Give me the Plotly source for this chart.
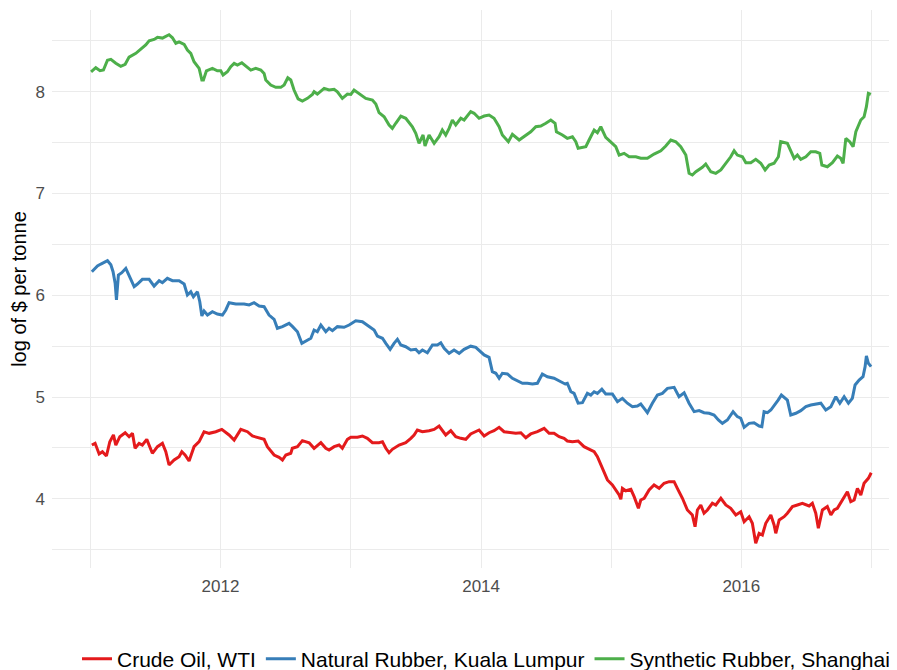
import plotly.graph_objects as go
import pandas as pd

# ---- data (decimal year, log of $ per tonne) ----
series_names = ["Crude Oil, WTI", "Natural Rubber, Kuala Lumpur", "Synthetic Rubber, Shanghai"]
series_colors = ["#E41A1C", "#377EB8", "#4DAF4A"]

oil_t = [2011.011, 2011.036, 2011.067, 2011.092, 2011.123, 2011.149, 2011.177, 2011.195, 2011.226, 2011.267,
         2011.297, 2011.323, 2011.343, 2011.374, 2011.399, 2011.433, 2011.476, 2011.515, 2011.553, 2011.579,
         2011.604, 2011.643, 2011.681, 2011.702, 2011.727, 2011.758, 2011.796, 2011.835, 2011.873, 2011.912,
         2011.963, 2012.009, 2012.065, 2012.104, 2012.155, 2012.206, 2012.244, 2012.296, 2012.334, 2012.359,
         2012.411, 2012.449, 2012.475, 2012.501, 2012.539, 2012.551, 2012.590, 2012.628, 2012.680, 2012.718,
         2012.770, 2012.808, 2012.833, 2012.872, 2012.910, 2012.935, 2012.974, 2013.000, 2013.051, 2013.089,
         2013.127, 2013.166, 2013.217, 2013.243, 2013.269, 2013.294, 2013.319, 2013.371, 2013.422, 2013.461,
         2013.486, 2013.511, 2013.550, 2013.601, 2013.640, 2013.678, 2013.703, 2013.729, 2013.768, 2013.806,
         2013.845, 2013.883, 2013.921, 2013.960, 2013.985, 2014.024, 2014.062, 2014.100, 2014.139, 2014.177,
         2014.216, 2014.267, 2014.306, 2014.344, 2014.382, 2014.433, 2014.485, 2014.523, 2014.561, 2014.600,
         2014.638, 2014.663, 2014.702, 2014.746, 2014.791, 2014.843, 2014.869, 2014.894, 2014.920, 2014.945,
         2014.971, 2015.009, 2015.035, 2015.061, 2015.074, 2015.086, 2015.112, 2015.151, 2015.176, 2015.209,
         2015.227, 2015.253, 2015.291, 2015.329, 2015.368, 2015.406, 2015.445, 2015.483, 2015.508, 2015.547,
         2015.585, 2015.623, 2015.644, 2015.662, 2015.688, 2015.713, 2015.739, 2015.777, 2015.803, 2015.842,
         2015.880, 2015.918, 2015.957, 2015.995, 2016.021, 2016.059, 2016.084, 2016.110, 2016.136, 2016.161,
         2016.187, 2016.226, 2016.251, 2016.264, 2016.290, 2016.328, 2016.353, 2016.392, 2016.430, 2016.468,
         2016.520, 2016.545, 2016.571, 2016.591, 2016.622, 2016.660, 2016.687, 2016.712, 2016.737, 2016.776,
         2016.814, 2016.840, 2016.866, 2016.891, 2016.917, 2016.942, 2016.975, 2016.997]
oil_v = [4.529, 4.546, 4.441, 4.464, 4.421, 4.562, 4.628, 4.529, 4.611, 4.65,
         4.611, 4.644, 4.497, 4.546, 4.529, 4.585, 4.448, 4.513, 4.546, 4.464,
         4.333, 4.382, 4.415, 4.464, 4.431, 4.372, 4.513, 4.562, 4.66, 4.644,
         4.66, 4.683, 4.628, 4.578, 4.683, 4.66, 4.618, 4.601, 4.585, 4.513,
         4.431, 4.408, 4.382, 4.431, 4.448, 4.497, 4.513, 4.572, 4.552, 4.497,
         4.552, 4.497, 4.48, 4.513, 4.529, 4.497, 4.585, 4.605, 4.605, 4.618,
         4.595, 4.552, 4.552, 4.562, 4.497, 4.454, 4.487, 4.529, 4.552, 4.595,
         4.628, 4.677, 4.66, 4.67, 4.683, 4.716, 4.677, 4.628, 4.67, 4.611,
         4.595, 4.585, 4.638, 4.66, 4.677, 4.618, 4.65, 4.67, 4.703, 4.66,
         4.65, 4.644, 4.65, 4.601, 4.638, 4.66, 4.693, 4.644, 4.644, 4.611,
         4.595, 4.569, 4.562, 4.569, 4.513, 4.48, 4.464, 4.415, 4.333, 4.251,
         4.186, 4.137, 4.088, 4.038, 3.996, 4.104, 4.08, 4.094, 4.022, 3.908,
         3.989, 4.006, 4.088, 4.137, 4.104, 4.153, 4.169, 4.169, 4.104, 4.006,
         3.891, 3.842, 3.727, 3.891, 3.94, 3.859, 3.891, 3.957, 3.94, 4.006,
         3.94, 3.908, 3.842, 3.874, 3.776, 3.825, 3.76, 3.564, 3.662, 3.645,
         3.76, 3.842, 3.744, 3.662, 3.793, 3.825, 3.859, 3.924, 3.94, 3.957,
         3.93, 3.957, 3.859, 3.711, 3.891, 3.924, 3.842, 3.891, 3.908, 3.989,
         4.071, 3.973, 3.989, 4.104, 4.038, 4.153, 4.202, 4.257]

nat_t = [2011.011, 2011.054, 2011.080, 2011.105, 2011.131, 2011.157, 2011.174, 2011.190, 2011.200, 2011.215,
         2011.241, 2011.272, 2011.303, 2011.336, 2011.361, 2011.399, 2011.451, 2011.489, 2011.528, 2011.553,
         2011.591, 2011.630, 2011.681, 2011.720, 2011.745, 2011.771, 2011.791, 2011.822, 2011.840, 2011.856,
         2011.873, 2011.899, 2011.937, 2011.975, 2012.014, 2012.040, 2012.065, 2012.117, 2012.180, 2012.219,
         2012.257, 2012.296, 2012.334, 2012.372, 2012.411, 2012.436, 2012.475, 2012.513, 2012.526, 2012.551,
         2012.590, 2012.624, 2012.667, 2012.693, 2012.718, 2012.743, 2012.770, 2012.808, 2012.833, 2012.859,
         2012.897, 2012.948, 2012.987, 2013.038, 2013.089, 2013.127, 2013.179, 2013.204, 2013.243, 2013.269,
         2013.302, 2013.332, 2013.358, 2013.384, 2013.422, 2013.461, 2013.499, 2013.524, 2013.550, 2013.588,
         2013.627, 2013.665, 2013.691, 2013.717, 2013.755, 2013.793, 2013.832, 2013.870, 2013.921, 2013.960,
         2013.998, 2014.024, 2014.062, 2014.087, 2014.114, 2014.139, 2014.164, 2014.203, 2014.241, 2014.279,
         2014.318, 2014.356, 2014.395, 2014.433, 2014.471, 2014.510, 2014.561, 2014.613, 2014.646, 2014.663,
         2014.690, 2014.715, 2014.746, 2014.779, 2014.817, 2014.843, 2014.869, 2014.894, 2014.928, 2014.958,
         2015.009, 2015.048, 2015.086, 2015.124, 2015.163, 2015.201, 2015.227, 2015.253, 2015.278, 2015.316,
         2015.355, 2015.393, 2015.432, 2015.483, 2015.521, 2015.560, 2015.598, 2015.637, 2015.675, 2015.713,
         2015.752, 2015.790, 2015.823, 2015.854, 2015.892, 2015.936, 2015.969, 2015.995, 2016.021, 2016.059,
         2016.097, 2016.136, 2016.157, 2016.174, 2016.200, 2016.226, 2016.251, 2016.282, 2016.307, 2016.353,
         2016.379, 2016.418, 2016.456, 2016.495, 2016.533, 2016.571, 2016.610, 2016.648, 2016.687, 2016.725,
         2016.756, 2016.789, 2016.822, 2016.852, 2016.873, 2016.904, 2016.934, 2016.950, 2016.960, 2016.975,
         2016.996]
nat_v = [6.232, 6.288, 6.307, 6.32, 6.34, 6.30, 6.232, 6.118, 5.954, 6.199,
         6.222, 6.265, 6.183, 6.085, 6.111, 6.157, 6.157, 6.091, 6.144, 6.124,
         6.167, 6.144, 6.144, 6.111, 6.003, 6.035, 5.986, 6.035, 5.937, 5.797,
         5.846, 5.806, 5.839, 5.816, 5.806, 5.856, 5.927, 5.915, 5.915, 5.905,
         5.927, 5.895, 5.888, 5.806, 5.764, 5.676, 5.692, 5.718, 5.725, 5.695,
         5.642, 5.528, 5.561, 5.578, 5.659, 5.642, 5.708, 5.642, 5.676, 5.652,
         5.692, 5.686, 5.708, 5.75, 5.741, 5.708, 5.659, 5.60, 5.578, 5.528,
         5.469, 5.528, 5.568, 5.512, 5.495, 5.463, 5.469, 5.436, 5.463, 5.436,
         5.512, 5.512, 5.534, 5.479, 5.43, 5.463, 5.43, 5.469, 5.50, 5.489,
         5.446, 5.414, 5.391, 5.25, 5.234, 5.185, 5.234, 5.227, 5.185, 5.161,
         5.136, 5.136, 5.129, 5.136, 5.227, 5.20, 5.185, 5.151, 5.129, 5.136,
         5.053, 5.037, 4.94, 4.945, 5.037, 5.02, 5.053, 5.037, 5.077, 5.03,
         5.03, 4.955, 4.988, 4.94, 4.906, 4.913, 4.932, 4.89, 4.847, 4.94,
         5.02, 5.037, 5.086, 5.096, 5.004, 5.043, 4.94, 4.857, 4.867, 4.847,
         4.841, 4.824, 4.775, 4.742, 4.775, 4.857, 4.808, 4.792, 4.703, 4.742,
         4.748, 4.716, 4.709, 4.857, 4.847, 4.873, 4.913, 4.971, 5.02, 4.971,
         4.824, 4.841, 4.867, 4.906, 4.922, 4.932, 4.94, 4.873, 4.906, 5.004,
         4.94, 5.004, 4.94, 4.988, 5.119, 5.168, 5.20, 5.299, 5.404, 5.332,
         5.299]

syn_t = [2011.005, 2011.041, 2011.074, 2011.100, 2011.131, 2011.157, 2011.195, 2011.233, 2011.267, 2011.297,
         2011.349, 2011.387, 2011.425, 2011.451, 2011.489, 2011.515, 2011.553, 2011.604, 2011.630, 2011.656,
         2011.681, 2011.720, 2011.745, 2011.771, 2011.796, 2011.835, 2011.856, 2011.868, 2011.891, 2011.937,
         2011.975, 2012.001, 2012.019, 2012.052, 2012.078, 2012.104, 2012.129, 2012.163, 2012.193, 2012.232,
         2012.270, 2012.309, 2012.334, 2012.347, 2012.385, 2012.424, 2012.462, 2012.488, 2012.516, 2012.539,
         2012.564, 2012.578, 2012.595, 2012.628, 2012.667, 2012.705, 2012.718, 2012.743, 2012.795, 2012.833,
         2012.872, 2012.897, 2012.935, 2012.974, 2013.000, 2013.025, 2013.064, 2013.115, 2013.166, 2013.192,
         2013.217, 2013.256, 2013.294, 2013.319, 2013.345, 2013.384, 2013.422, 2013.473, 2013.499, 2013.524,
         2013.555, 2013.570, 2013.601, 2013.640, 2013.678, 2013.703, 2013.729, 2013.755, 2013.780, 2013.806,
         2013.845, 2013.870, 2013.921, 2013.947, 2013.985, 2014.024, 2014.062, 2014.100, 2014.139, 2014.164,
         2014.210, 2014.241, 2014.293, 2014.344, 2014.382, 2014.421, 2014.459, 2014.498, 2014.536, 2014.569,
         2014.579, 2014.625, 2014.663, 2014.702, 2014.728, 2014.746, 2014.805, 2014.830, 2014.869, 2014.894,
         2014.920, 2014.958, 2014.997, 2015.035, 2015.061, 2015.099, 2015.138, 2015.189, 2015.227, 2015.278,
         2015.329, 2015.381, 2015.419, 2015.458, 2015.496, 2015.534, 2015.573, 2015.598, 2015.623, 2015.650,
         2015.700, 2015.726, 2015.765, 2015.803, 2015.842, 2015.880, 2015.918, 2015.944, 2015.969, 2016.008,
         2016.034, 2016.072, 2016.110, 2016.149, 2016.182, 2016.213, 2016.251, 2016.284, 2016.302, 2016.353,
         2016.379, 2016.405, 2016.430, 2016.456, 2016.495, 2016.533, 2016.571, 2016.602, 2016.618, 2016.660,
         2016.699, 2016.737, 2016.763, 2016.781, 2016.802, 2016.832, 2016.858, 2016.879, 2016.917, 2016.942,
         2016.960, 2016.975, 2016.994]
syn_v = [8.196, 8.236, 8.206, 8.213, 8.31, 8.318, 8.28, 8.25, 8.27, 8.34,
         8.377, 8.416, 8.46, 8.50, 8.514, 8.534, 8.527, 8.56, 8.53, 8.475,
         8.49, 8.466, 8.41, 8.377, 8.295, 8.23, 8.115, 8.115, 8.206, 8.23,
         8.206, 8.206, 8.164, 8.196, 8.246, 8.279, 8.262, 8.285, 8.25, 8.213,
         8.23, 8.213, 8.18, 8.115, 8.066, 8.043, 8.043, 8.066, 8.137, 8.115,
         8.017, 7.968, 7.93, 7.909, 7.935, 7.974, 8.0, 7.977, 8.033, 8.017,
         8.024, 8.0, 7.935, 7.977, 7.974, 8.017, 7.984, 7.935, 7.918, 7.879,
         7.794, 7.754, 7.673, 7.64, 7.69, 7.761, 7.739, 7.656, 7.591, 7.493,
         7.575, 7.467, 7.575, 7.493, 7.558, 7.624, 7.575, 7.64, 7.722, 7.673,
         7.739, 7.722, 7.804, 7.788, 7.739, 7.761, 7.771, 7.739, 7.656, 7.575,
         7.509, 7.582, 7.526, 7.575, 7.607, 7.656, 7.663, 7.69, 7.722, 7.69,
         7.607, 7.575, 7.542, 7.558, 7.509, 7.444, 7.46, 7.526, 7.624, 7.597,
         7.656, 7.552, 7.509, 7.46, 7.378, 7.395, 7.361, 7.361, 7.346, 7.346,
         7.388, 7.42, 7.467, 7.526, 7.509, 7.46, 7.378, 7.198, 7.182, 7.214,
         7.257, 7.29, 7.214, 7.198, 7.231, 7.297, 7.361, 7.42, 7.378, 7.361,
         7.303, 7.303, 7.336, 7.297, 7.231, 7.28, 7.297, 7.361, 7.509, 7.493,
         7.427, 7.346, 7.378, 7.336, 7.361, 7.41, 7.41, 7.395, 7.28, 7.263,
         7.303, 7.368, 7.346, 7.297, 7.542, 7.509, 7.46, 7.607, 7.722, 7.754,
         7.853, 7.984, 7.974]

x_tick_years = [2012, 2014, 2016]
x_minor_years = [2011, 2013, 2015, 2017]
y_ticks = [4, 5, 6, 7, 8]
y_minor = [3.5, 4.5, 5.5, 6.5, 7.5, 8.5]


def to_dates(ts):
    base = pd.Timestamp("2011-01-01")
    return [base + pd.Timedelta(days=(t - 2011) * 365.25) for t in ts]


FONT = "Liberation Sans, Arial, Helvetica, sans-serif"
GRID = "#EBEBEB"

# The page body keeps its default 8px margin, so the figure is drawn
# 8px in from the window's top-left corner; size it to end at the window edge.
W, H = 889, 662

fig = go.Figure()
for name, color, ts, vs in zip(series_names, series_colors,
                               [oil_t, nat_t, syn_t], [oil_v, nat_v, syn_v]):
    fig.add_trace(go.Scatter(x=to_dates(ts), y=vs, mode="lines", name=name,
                             line=dict(color=color, width=3)))

fig.update_layout(
    width=W, height=H,
    margin=dict(l=44, r=0, t=2, b=102),
    paper_bgcolor="white", plot_bgcolor="white",
    font=dict(family=FONT, color="black"),
    showlegend=True,
    legend=dict(orientation="h", xref="container", yref="container",
                x=69 / W, xanchor="left", y=(H - 651) / H, yanchor="middle",
                font=dict(size=21, color="black"), itemwidth=30,
                bgcolor="rgba(0,0,0,0)"),
)
fig.update_xaxes(
    type="date",
    range=to_dates([2010.705, 2017.195]),
    tickvals=[pd.Timestamp(f"{y}-01-01") for y in x_tick_years],
    ticktext=[str(y) for y in x_tick_years],
    tickfont=dict(size=17, color="#4D4D4D"),
    ticklabelstandoff=6,
    showgrid=True, gridcolor=GRID, gridwidth=1.3,
    minor=dict(tickvals=[pd.Timestamp(f"{y}-01-01") for y in x_minor_years],
               showgrid=True, gridcolor=GRID, gridwidth=0.7),
    zeroline=False, showline=False, ticks="",
)
fig.update_yaxes(
    range=[3.321, 8.803],
    tickvals=y_ticks,
    ticktext=[str(v) for v in y_ticks],
    tickfont=dict(size=17, color="#4D4D4D"),
    ticklabelstandoff=6,
    showgrid=True, gridcolor=GRID, gridwidth=1.3,
    minor=dict(tickvals=y_minor, showgrid=True, gridcolor=GRID, gridwidth=0.7),
    zeroline=False, showline=False, ticks="",
    title=dict(text="log of $ per tonne", font=dict(size=20, color="black"), standoff=3),
)

fig.write_html("out.html")
